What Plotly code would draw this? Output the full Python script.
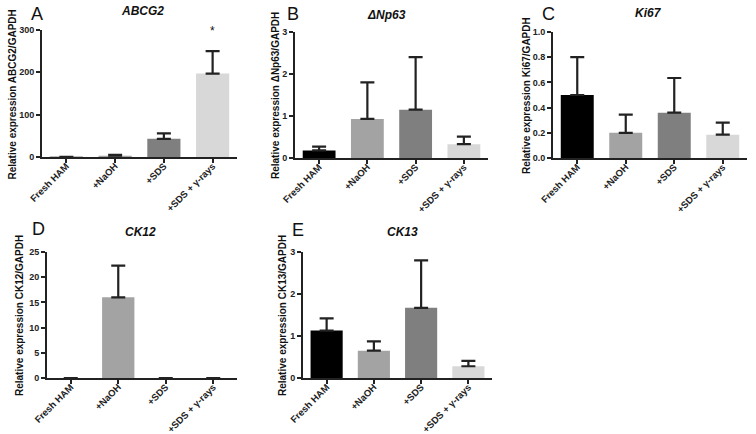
import plotly.graph_objects as go

W, H = 756, 434

categories = ["Fresh HAM", "+NaOH", "+SDS", "+SDS + γ-rays"]
bar_colors = ["#000000", "#a3a3a3", "#7f7f7f", "#d8d8d8"]

abcg2_mean = [0.5, 3, 43, 197]
abcg2_top = [0.5, 5, 56, 250]
np63_mean = [0.18, 0.93, 1.15, 0.33]
np63_top = [0.27, 1.80, 2.40, 0.51]
ki67_mean = [0.50, 0.20, 0.36, 0.185]
ki67_top = [0.80, 0.345, 0.635, 0.28]
ck12_mean = [0, 16.0, 0, 0]
ck12_top = [0, 22.3, 0, 0]
ck13_mean = [1.13, 0.65, 1.67, 0.28]
ck13_top = [1.42, 0.87, 2.80, 0.41]

panels = [
    dict(letter="A", title="ABCG2", ylab="Relative expression ABCG2/GAPDH",
         mean=abcg2_mean, top=abcg2_top, yr=[0, 300], dt=100, fmt="",
         px=(42, 237), py=(157, 30), lx=37, ly=14, tx=142, ty=11, yx=12),
    dict(letter="B", title="ΔNp63", ylab="Relative expression ΔNp63/GAPDH",
         mean=np63_mean, top=np63_top, yr=[0, 3], dt=1, fmt="",
         px=(295, 488), py=(158, 32), lx=293, ly=14, tx=387, ty=15, yx=275),
    dict(letter="C", title="Ki67", ylab="Relative expression Ki67/GAPDH",
         mean=ki67_mean, top=ki67_top, yr=[0, 1], dt=0.2, fmt=".1f",
         px=(553, 747), py=(158, 32), lx=548, ly=14, tx=648, ty=13, yx=526),
    dict(letter="D", title="CK12", ylab="Relative expression CK12/GAPDH",
         mean=ck12_mean, top=ck12_top, yr=[0, 25], dt=5, fmt="",
         px=(47, 237), py=(378, 252), lx=38, ly=229, tx=140, ty=232, yx=19),
    dict(letter="E", title="CK13", ylab="Relative expression CK13/GAPDH",
         mean=ck13_mean, top=ck13_top, yr=[0, 3], dt=1, fmt="",
         px=(303, 492), py=(378, 252), lx=298, ly=230, tx=403, ty=232, yx=282),
]

FONT = "Arial, Liberation Sans, sans-serif"
AX = "#222222"

fig = go.Figure()
annotations = []
layout = {}

for i, p in enumerate(panels):
    n = "" if i == 0 else str(i + 1)
    xa, ya = "x" + n, "y" + n
    err = [t - m for t, m in zip(p["top"], p["mean"])]
    fig.add_trace(go.Bar(
        x=categories, y=p["mean"], xaxis=xa, yaxis=ya,
        marker=dict(color=bar_colors, line=dict(width=0)),
        width=0.68, showlegend=False, hoverinfo="skip",
        error_y=dict(type="data", symmetric=False, array=err,
                     arrayminus=[0] * len(err), color=AX, thickness=2.2, width=7),
    ))
    x0, x1 = p["px"]
    yb, yt = p["py"]
    layout["xaxis" + n] = dict(
        domain=[x0 / W, x1 / W], anchor=ya, type="category", automargin=False,
        showline=True, linecolor=AX, linewidth=2, ticks="outside", ticklen=4,
        tickwidth=2, tickcolor=AX, tickangle=-45, showgrid=False, zeroline=False,
        ticklabelstandoff=-6,
        tickfont=dict(family=FONT, size=9.5, color="#222", weight="bold"),
        fixedrange=True,
    )
    layout["yaxis" + n] = dict(
        domain=[1 - yb / H, 1 - yt / H], anchor=xa, range=p["yr"], automargin=False,
        dtick=p["dt"], tick0=0, tickformat=p["fmt"],
        showline=True, linecolor=AX, linewidth=2, ticks="outside", ticklen=4,
        tickwidth=2, tickcolor=AX, showgrid=False, zeroline=False,
        tickfont=dict(family=FONT, size=9, color="#222", weight="bold"),
        fixedrange=True,
    )
    annotations.append(dict(
        text=p["letter"], x=p["lx"] / W, y=1 - p["ly"] / H, xref="paper", yref="paper",
        xanchor="center", yanchor="middle", showarrow=False,
        font=dict(family=FONT, size=18, color="#111")))
    annotations.append(dict(
        text="<b><i>" + p["title"] + "</i></b>", x=p["tx"] / W,
        y=1 - p["ty"] / H, xref="paper", yref="paper",
        xanchor="center", yanchor="middle", showarrow=False,
        font=dict(family=FONT, size=12, color="#111")))
    annotations.append(dict(
        text="<b>" + p["ylab"] + "</b>", x=p["yx"] / W,
        y=1 - ((yb + yt) / 2 + 1) / H,
        xref="paper", yref="paper", textangle=-90,
        xanchor="center", yanchor="middle", showarrow=False,
        font=dict(family=FONT, size=10, color="#111")))

annotations.append(dict(
    text="*", x=categories[3], y=297, xref="x", yref="y",
    xanchor="center", yanchor="middle", showarrow=False,
    font=dict(family=FONT, size=12, color="#111")))

fig.update_layout(
    template="none",
    width=W, height=H, margin=dict(l=0, r=0, t=0, b=0, autoexpand=False),
    paper_bgcolor="white", plot_bgcolor="white", hovermode=False,
    annotations=annotations, **layout,
)

fig.write_html(
    "out.html",
    config={"displayModeBar": False, "staticPlot": True},
    post_script="document.body.style.margin='0';document.body.style.overflow='hidden';",
)
